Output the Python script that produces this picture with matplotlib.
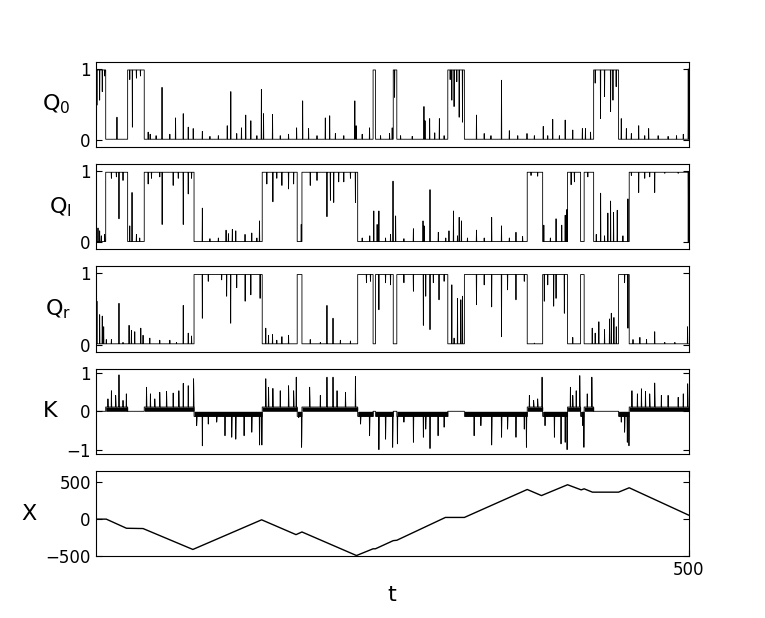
import numpy as np
import matplotlib
matplotlib.use('Agg')
import matplotlib.pyplot as plt

plt.rcParams['font.size'] = 12
plt.rcParams['mathtext.fontset'] = 'dejavusans'
plt.rcParams['xtick.direction'] = 'in'
plt.rcParams['ytick.direction'] = 'in'
plt.rcParams['xtick.top'] = True
plt.rcParams['ytick.right'] = True

# --- state sequence (which of Q0 / Ql / Qr is "on") ---
state_bounds = [0, 8.5, 27, 41, 83, 140.5, 170, 174, 221, 234, 236, 251, 254,
                297, 311, 364, 377, 398, 409, 412, 420, 441, 450, 500]
state_seq = ['0', 'l', '0', 'l', 'r', 'l', 'r', 'l', 'r', '0', 'r', '0', 'r',
             '0', 'r', 'l', 'r', 'l', 'r', 'l', '0', 'r', 'l']

# spikes / dips on top of each trace: (t, value)
q0_spikes = [
    (1.1, 0.49), (3.4, 0.56), (5.6, 0.68), (7.6, 0.9), (18, 0.32), (28.8, 0.85),
    (31, 0.18), (34.4, 0.87), (37.8, 0.9), (44.3, 0.11), (46, 0.08), (51, 0.06),
    (56, 0.74), (62.6, 0.08), (67.4, 0.31), (73.9, 0.37), (78.1, 0.18), (82.3, 0.16),
    (90, 0.12), (96.4, 0.05), (103.5, 0.06), (111, 0.2), (114, 0.68), (119, 0.09),
    (123, 0.17), (126.6, 0.35), (130.9, 0.27), (136, 0.06), (139.8, 0.71), (141.6, 0.37),
    (149.2, 0.36), (155.7, 0.06), (162.7, 0.08), (169.5, 0.17), (174.6, 0.55),
    (179.6, 0.16), (186.7, 0.06), (193.7, 0.31), (197.4, 0.34), (202.2, 0.09),
    (209.3, 0.06), (218.6, 0.55), (219.7, 0.2), (224.8, 0.08), (231, 0.17),
    (240.3, 0.06), (247.9, 0.09), (250.1, 0.17), (252.1, 0.6), (257.2, 0.06),
    (267, 0.05), (276.9, 0.47), (277.8, 0.27), (281.7, 0.3), (286, 0.1), (289.9, 0.3),
    (293.9, 0.06), (299, 0.85), (300.4, 0.56), (302.3, 0.47), (304.6, 0.82),
    (306.6, 0.32), (309.4, 0.25), (321.2, 0.35), (327.7, 0.09), (333.4, 0.06),
    (342.3, 0.84), (348.9, 0.13), (356, 0.06), (363.8, 0.09), (370, 0.06), (377.5, 0.19),
    (381.3, 0.06), (385.5, 0.29), (391.1, 0.06), (396, 0.28), (402.4, 0.14),
    (410.5, 0.16), (413.1, 0.16), (417.4, 0.11), (421.3, 0.8), (425.8, 0.3),
    (429.2, 0.61), (434.3, 0.4), (436.3, 0.56), (439, 0.75), (443.3, 0.3),
    (447.6, 0.16), (451.8, 0.09), (458, 0.2), (463.1, 0.06), (466.4, 0.16),
    (474.4, 0.06), (482.8, 0.05), (489.9, 0.06), (495.6, 0.08), (499.8, 1.0),
]
ql_spikes = [
    (0.6, 0.47), (2, 0.2), (3.4, 0.16), (4.8, 0.09), (7.6, 0.11), (13.3, 0.9),
    (17.5, 0.92), (19.7, 0.33), (23.1, 0.87), (28.8, 0.23), (30.7, 0.7), (34.4, 0.11),
    (37.2, 0.06), (44.3, 0.82), (47.1, 0.9), (54.1, 0.92), (56.1, 0.25), (65.4, 0.8),
    (69.7, 0.9), (73.9, 0.25), (78.1, 0.68), (80.9, 0.9), (90, 0.48), (96.4, 0.05),
    (103.5, 0.06), (110, 0.17), (112, 0.12), (115.3, 0.18), (118.2, 0.16), (126, 0.11),
    (131.7, 0.13), (136, 0.06), (138.2, 0.3), (144.4, 0.82), (149.5, 0.57),
    (152.8, 0.9), (157.1, 0.8), (162.7, 0.75), (167, 0.82), (173.4, 0.25), (181, 0.8),
    (186.7, 0.87), (195.1, 0.36), (198, 0.59), (200.8, 0.56), (205, 0.85), (209.3, 0.85),
    (214.9, 0.9), (219.1, 0.56), (224.8, 0.06), (231.2, 0.09), (234.6, 0.44),
    (237.4, 0.25), (238.9, 0.44), (244.5, 0.06), (248.7, 0.11), (250.8, 0.86),
    (253, 0.37), (260, 0.05), (268, 0.19), (276.1, 0.3), (277, 0.23), (282, 0.74),
    (289, 0.14), (295.3, 0.06), (298, 0.16), (301.8, 0.44), (305.2, 0.09), (306.6, 0.35),
    (308.5, 0.3), (313.6, 0.06), (321.2, 0.17), (327.7, 0.06), (334, 0.35), (342.3, 0.23),
    (348.9, 0.06), (354.5, 0.14), (360.1, 0.08), (367.2, 0.94), (372.8, 0.93),
    (378, 0.24), (383.5, 0.06), (388.3, 0.33), (393.1, 0.24), (396, 0.38), (397.4, 0.46),
    (401, 0.81), (403.8, 0.85), (415.1, 0.92), (422.2, 0.11), (425.9, 0.69),
    (429.2, 0.09), (432, 0.41), (434.3, 0.58), (436.8, 0.42), (439.9, 0.45),
    (444.7, 0.09), (448.9, 0.61), (451.8, 0.94), (458, 0.7), (463.1, 0.9), (467.3, 0.92),
    (471.5, 0.7), (480, 0.97), (491.3, 0.97), (499.8, 0.0),
]
qr_spikes = [
    (1.1, 0.61), (3.4, 0.42), (5.6, 0.4), (6.8, 0.25), (9, 0.07), (13.3, 0.07),
    (19.7, 0.58), (23.1, 0.03), (28.2, 0.27), (30.2, 0.2), (33, 0.18), (38.1, 0.23),
    (40, 0.13), (45.7, 0.09), (54.1, 0.06), (62.6, 0.06), (68.2, 0.03), (73.9, 0.55),
    (78.1, 0.16), (80.9, 0.12), (90, 0.37), (95, 0.89), (106.3, 0.91), (110.5, 0.68),
    (113.9, 0.3), (119, 0.8), (126.1, 0.61), (130.9, 0.7), (138.7, 0.65), (143.5, 0.23),
    (145.8, 0.13), (149.2, 0.14), (152.8, 0.06), (157.1, 0.11), (162.7, 0.13),
    (181, 0.07), (189.5, 0.03), (195.1, 0.55), (200.2, 0.37), (206.4, 0.06),
    (214.9, 0.05), (228.4, 0.87), (231.8, 0.89), (238.9, 0.49), (244.5, 0.87),
    (248.7, 0.84), (260, 0.87), (268, 0.75), (276.4, 0.27), (278.4, 0.68), (282, 0.21),
    (284.8, 0.87), (289.6, 0.63), (293.9, 0.89), (300.4, 0.84), (302.3, 0.09),
    (305.2, 0.65), (308, 0.63), (309.4, 0.68), (321.2, 0.56), (327.7, 0.84), (334, 0.53),
    (342.3, 0.11), (347.4, 0.77), (354.5, 0.63), (361.5, 0.89), (370, 0.02),
    (378.4, 0.61), (381.3, 0.84), (386.3, 0.54), (388.3, 0.65), (395.3, 0.44),
    (402.4, 0.1), (418.8, 0.23), (421.3, 0.16), (424.4, 0.32), (429.2, 0.21),
    (433.4, 0.36), (434.9, 0.44), (437.1, 0.38), (439.1, 0.25), (446.1, 0.87),
    (448.9, 0.23), (453.2, 0.07), (459, 0.1), (464.6, 0.07), (471.5, 0.18), (480, 0.03),
    (488.5, 0.03), (499.2, 0.25),
]
k_spikes = [
    (10.4, 0.32), (13.3, 0.53), (16.9, 0.41), (19.7, 0.94), (23.1, 0.28), (25.9, 0.45),
    (42.9, 0.62), (46.2, 0.45), (49.9, 0.32), (54.1, 0.49), (59.8, 0.51), (65.4, 0.47),
    (70.2, 0.53), (73.9, 0.72), (78.1, 0.66), (82.6, 0.84), (85.2, -0.37), (90, -0.89),
    (95, -0.33), (102.1, -0.28), (109.1, -0.63), (114.8, -0.67), (118.2, -0.72),
    (125.2, -0.63), (131.7, -0.54), (138.2, -0.87), (140.2, -0.87), (143.5, 0.84),
    (145.8, 0.62), (149.5, 0.59), (155.7, 0.53), (162.7, 0.66), (167, 0.53),
    (169.2, 0.88), (171.2, -0.16), (173.7, -0.93), (180.5, 0.62), (189.5, 0.41),
    (195.1, 0.88), (200.2, 0.88), (203.6, 0.53), (210.7, 0.49), (219.1, 0.9),
    (223.4, -0.33), (231, -0.63), (238.9, -0.99), (244.5, -0.72), (250.5, -0.93),
    (254.5, -0.84), (260, -0.28), (268, -0.8), (276.4, -0.67), (278.4, -0.46),
    (282, -0.96), (288.8, -0.63), (293.9, -0.41), (319.2, -0.63), (324.9, -0.37),
    (334, -0.87), (342.3, -0.67), (347.4, -0.46), (354.5, -0.67), (361.5, -0.46),
    (363.3, -0.93), (365.8, 0.41), (369.4, 0.28), (372.8, 0.32), (376.5, 0.88),
    (379, -0.37), (386.9, -0.67), (392.5, -0.84), (396, -0.8), (397.6, -0.99),
    (400.4, 0.62), (402.4, 0.41), (405.3, 0.53), (408.3, 0.92), (410.9, -0.37),
    (411.8, -0.93), (414.6, 0.45), (418.5, 0.88), (443.3, -0.28), (446.1, -0.54),
    (448.4, -0.8), (449.8, -0.89), (452.3, 0.53), (456.9, 0.45), (460.3, 0.58),
    (463.7, 0.51), (467.3, 0.45), (471.5, 0.73), (477.1, 0.41), (482.8, 0.41),
    (491.3, 0.36), (495.6, 0.45), (499.3, 0.71),
]

# X: position trace, corners
x_t = [0, 9, 26, 40, 82, 140, 169, 174, 220, 234, 236, 251, 254, 295, 311,
       364, 376, 398, 409.5, 412, 419, 441, 450, 500]
x_val = [0, 0, -123, -127, -409, -9, -209, -173, -491, -400, -400, -290, -285,
         23, 23, 400, 318, 464, 395, 409, 364, 364, 423, 55]


def trace(levels, spikes, w=0.2):
    """Step signal over the state sequence with thin spikes on it."""
    spikes = sorted(spikes)
    ts, vs = [], []
    for i in range(len(state_seq)):
        t0, t1 = state_bounds[i], state_bounds[i + 1]
        lev = levels[state_seq[i]]
        ts.append(t0); vs.append(lev)
        for t, v in spikes:
            if t0 < t < t1:
                ts += [t - w, t, t + w]
                vs += [lev, v, lev]
        ts.append(t1); vs.append(lev)
    return np.array(ts), np.array(vs)


fig, axes = plt.subplots(5, 1, figsize=(7.65, 6.18), dpi=100)
fig.patch.set_facecolor('white')
fig.subplots_adjust(left=0.125, right=0.9, top=0.9, bottom=0.1, hspace=0.2)

hi, lo = 0.985, 0.01
panels = [
    ('Q$_0$', {'0': hi, 'l': lo, 'r': lo}, q0_spikes, -0.066),
    ('Q$_\\mathrm{l}$', {'0': lo, 'l': hi, 'r': lo}, ql_spikes, -0.059),
    ('Q$_\\mathrm{r}$', {'0': lo, 'l': lo, 'r': hi}, qr_spikes, -0.063),
]
for ax, (lab, lev, sp, lx) in zip(axes[:3], panels):
    t, v = trace(lev, sp)
    ax.plot(t, v, color='k', lw=0.6)
    ax.set_ylim(-0.1, 1.1)
    ax.set_yticks([0, 1])
    ax.set_ylabel(lab, rotation=0, fontsize=16, ha='center', va='center')
    ax.yaxis.set_label_coords(lx, 0.5)

# K panel
ax = axes[3]
t, v = trace({'0': 0.0, 'l': 0.11, 'r': -0.13}, k_spikes)
ax.fill_between(t, 0, v, color='k', lw=0)
ax.plot(t, v, color='k', lw=0.6)
ax.set_ylim(-1.1, 1.1)
ax.set_yticks([-1, 0, 1])
ax.set_ylabel('K', rotation=0, fontsize=16, ha='center', va='center')
ax.yaxis.set_label_coords(-0.076, 0.5)

# X panel
ax = axes[4]
ax.plot(x_t, x_val, color='k', lw=1.0)
ax.set_ylim(-500, 650)
ax.set_yticks([-500, 0, 500])
ax.set_ylabel('X', rotation=0, fontsize=16, ha='center', va='center')
ax.yaxis.set_label_coords(-0.113, 0.5)
ax.set_xlabel('t', fontsize=16)

for i, ax in enumerate(axes):
    ax.set_xlim(0, 500)
    ax.set_xticks([500] if i == 4 else [])
    ax.tick_params(length=4, width=0.8)

fig.savefig('out.png', dpi=100, facecolor='white')
